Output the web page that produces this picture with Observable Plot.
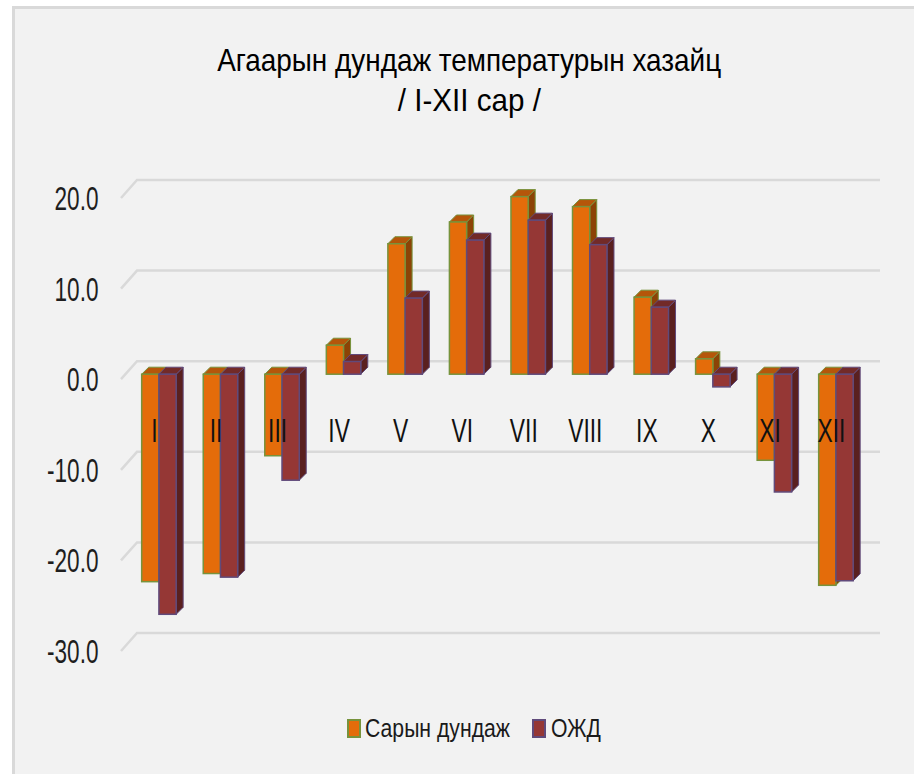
<!DOCTYPE html>
<html><head><meta charset="utf-8">
<script src="https://cdn.jsdelivr.net/npm/d3@7"></script>
<script src="https://cdn.jsdelivr.net/npm/@observablehq/plot@0.6"></script>
<style>
body{margin:0;background:#fff;width:914px;height:774px;overflow:hidden;position:relative;
  font-family:"Liberation Sans",Arial,sans-serif;color:#1a1a1a;}
#frame{position:absolute;left:12px;top:6px;width:899px;height:765px;border-left:3px solid #d9d9d9;border-top:3px solid #d9d9d9;background:#f2f2f2;overflow:hidden;}
#title{position:absolute;left:5px;top:31px;width:899px;text-align:center;font-size:32px;line-height:40px;color:#000;}
#title span{display:block;white-space:nowrap;transform-origin:center;}
#chart{position:absolute;left:0;top:111px;}
#chart svg{overflow:visible;color:#1e1e1e;}
.sw{position:absolute;width:14px;height:19px;box-sizing:border-box;border:2px solid;}
.lt{position:absolute;font-size:26px;line-height:30px;transform-origin:left center;white-space:nowrap;color:#1a1a1a;}
</style></head>
<body>
<div id="frame">
  <div id="title"></div>
  <div id="chart"></div>
  <div class="sw" id="sw1"></div><div class="lt" id="lt1"></div>
  <div class="sw" id="sw2"></div><div class="lt" id="lt2"></div>
</div>
<script>
const titleLines = ["Агаарын дундаж температурын хазайц", "/ I-XII сар /"];
const months = ["I","II","III","IV","V","VI","VII","VIII","IX","X","XI","XII"];
const seriesNames = ["Сарын дундаж", "ОЖД"];
const monthlyMean = [-22.9, -22.0, -9.0, 3.2, 14.4, 16.8, 19.6, 18.5, 8.5, 1.7, -9.5, -23.3];
const normalMean  = [-26.5, -22.4, -11.7, 1.4, 8.4, 14.8, 17.0, 14.3, 7.4, -1.4, -13.0, -22.8];
const yTicks = [-30, -20, -10, 0, 10, 20];

const colors = {
  a: {front:"#e46c0a", top:"#b5560a", side:"#8c4306", stroke:"#77933c"},
  b: {front:"#953735", top:"#722a28", side:"#5a201f", stroke:"#604a7b"}
};
const D = 7, barDy = -6;

const titleEl = document.getElementById("title");
titleEl.innerHTML = titleLines.map(t => `<span><span class="in" style="display:inline-block">${t}</span></span>`).join("");

const idx = d3.range(months.length);

function gridMark(index, scales, values, dims) {
  const g = d3.create("svg:g");
  const x0 = dims.marginLeft, x1 = dims.width - dims.marginRight;
  for (const t of yTicks) {
    const y = scales.y(t);
    g.append("path")
      .attr("d", `M${x0},${y - 1}L${x0 + 16},${y - 19}L${x1},${y - 19}`)
      .attr("fill", "none").attr("stroke", "#d9d9d9").attr("stroke-width", 2.5);
  }
  return g.node();
}

function facesMark(vals, o1, o2, c) {
  return (index, scales) => {
    const g = d3.create("svg:g");
    vals.forEach((v, i) => {
      const xa = scales.x(i + o1), xb = scales.x(i + o2);
      const yt = scales.y(Math.max(v, 0)) + barDy, yb = scales.y(Math.min(v, 0)) + barDy;
      g.append("polygon")
        .attr("points", [[xb, yt], [xb + D, yt - D], [xb + D, yb - D], [xb, yb]].join(" "))
        .attr("fill", c.side).attr("stroke", c.stroke).attr("stroke-width", 1);
      g.append("polygon")
        .attr("points", [[xa, yt], [xb, yt], [xb + D, yt - D], [xa + D, yt - D]].join(" "))
        .attr("fill", c.top).attr("stroke", c.stroke).attr("stroke-width", 1);
    });
    return g.node();
  };
}

function frontMark(vals, o1, o2, c) {
  return Plot.rect(idx, {
    x1: i => i + o1, x2: i => i + o2, y1: 0, y2: i => vals[i],
    dy: barDy, fill: c.front, stroke: c.stroke, strokeWidth: 1.5
  });
}

const oa1 = -0.2, oa2 = 0.08, ob1 = 0.08, ob2 = 0.36;

const chart = Plot.plot({
  width: 899, height: 580,
  marginLeft: 106, marginRight: 34, marginTop: 79, marginBottom: 48,
  style: {background: "transparent", fontFamily: "'Liberation Sans',Arial,sans-serif"},
  x: {domain: [0, 11], insetLeft: 33, insetRight: 49, axis: null},
  y: {domain: [-30, 20], axis: null},
  marks: [
    gridMark,
    facesMark(monthlyMean, oa1, oa2, colors.a),
    frontMark(monthlyMean, oa1, oa2, colors.a),
    facesMark(normalMean, ob1, ob2, colors.b),
    frontMark(normalMean, ob1, ob2, colors.b),
    Plot.text(idx, {x: i => i, y: 0, dy: 50, text: i => months[i], fontSize: 34, fill: "#111"}),
    Plot.axisY({ticks: yTicks, tickFormat: d => d.toFixed(1), tickSize: 0, tickPadding: 23, fontSize: 33, label: null})
  ]
});
document.getElementById("chart").appendChild(chart);

// horizontal squish to mimic the narrow typeface of the original
function squish(t, s) {
  let tx = 0;
  const xa = t.getAttribute("x");
  if (xa != null && xa !== "" && !isNaN(+xa)) { tx = +xa; t.setAttribute("x", 0); }
  const tr = t.getAttribute("transform") || "";
  t.setAttribute("transform", `${tr} translate(${tx},0) scale(${s},1)`);
}
const yTexts = Array.from(chart.querySelectorAll('g[aria-label="y-axis tick label"] text'));
const ref = yTexts.find(t => t.textContent === "20.0") || yTexts[0];
const sY = ref ? 44 / ref.getBBox().width : 0.7;
yTexts.forEach(t => squish(t, sY));
chart.querySelectorAll('g[aria-label="text"] text').forEach(t => squish(t, sY * 0.98));

// title fitting
const titleTargets = [504, 143];
titleEl.querySelectorAll(".in").forEach((el, k) => {
  const w = el.getBoundingClientRect().width;
  el.style.transform = `scaleX(${titleTargets[k] / w})`;
});

// legend
const sw1 = document.getElementById("sw1"), sw2 = document.getElementById("sw2");
sw1.style.cssText = `left:332px;top:710px;background:${colors.a.front};border-color:${colors.a.stroke}`;
sw2.style.cssText = `left:517px;top:710px;background:${colors.b.front};border-color:${colors.b.stroke}`;
const lt1 = document.getElementById("lt1"), lt2 = document.getElementById("lt2");
lt1.textContent = seriesNames[0]; lt1.style.left = "350px"; lt1.style.top = "704px";
lt2.textContent = seriesNames[1]; lt2.style.left = "536px"; lt2.style.top = "704px";
const sL = 145 / lt1.getBoundingClientRect().width;
lt1.style.transform = `scaleX(${sL})`;
lt2.style.transform = `scaleX(${sL})`;
</script>
</body></html>
